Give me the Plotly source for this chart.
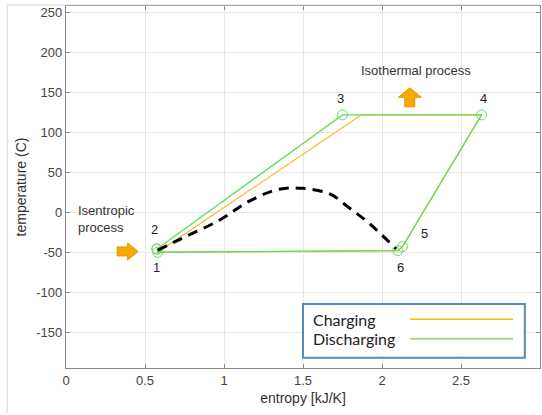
import plotly.graph_objects as go

# ---- data ----
charge_s = [0.58, 1.87, 2.63, 2.13, 2.10, 0.58]
charge_T = [-50, 122, 122, -43, -48, -50]

dis_s = [0.575, 1.75, 2.63, 2.13, 2.10, 0.58, 0.575]
dis_T = [-46, 122, 122, -43, -48, -50, -46]

dome_s = [0.58, 0.74, 0.97, 1.16, 1.35, 1.50, 1.67, 1.79, 1.92, 2.09]
dome_T = [-47.5, -32, -10, 14, 29, 30, 23, 6, -14, -46]

point_labels = ["1", "2", "3", "4", "5", "6"]
label_s = [0.575, 0.56, 1.74, 2.64, 2.27, 2.12]
label_T = [-69, -21, 142, 142, -26, -69]

x_ticks = [0, 0.5, 1, 1.5, 2, 2.5, 3]
x_ticklabels = ["0", "0.5", "1", "1.5", "2", "2.5", "3"]
y_ticks = [-150, -100, -50, 0, 50, 100, 150, 200, 250]
y_ticklabels = ["-150", "-100", "-50", "0", "50", "100", "150", "200", "250"]

legend_names = ["Charging", "Discharging"]

ORANGE = "#f2b51f"
GREEN = "#62dc5c"
ARROW = "#f5a800"
FONT = "Liberation Sans, Arial, sans-serif"

fig = go.Figure()
fig.add_trace(go.Scatter(x=charge_s, y=charge_T, mode="lines",
                         line=dict(color=ORANGE, width=1.1), name=legend_names[0],
                         showlegend=False, hoverinfo="skip"))
fig.add_trace(go.Scatter(x=dis_s, y=dis_T, mode="lines+markers",
                         line=dict(color=GREEN, width=1.3),
                         marker=dict(symbol="circle-open", size=10, color=GREEN,
                                     line=dict(width=1, color=GREEN)),
                         name=legend_names[1], showlegend=False, hoverinfo="skip"))
fig.add_trace(go.Scatter(x=dome_s, y=dome_T, mode="lines",
                         line=dict(color="black", width=3, dash="10px,7px", shape="spline",
                                   smoothing=1.0),
                         showlegend=False, hoverinfo="skip"))

# point number labels
for t, sx, ty in zip(point_labels, label_s, label_T):
    fig.add_annotation(x=sx, y=ty, text=t, showarrow=False,
                       font=dict(family=FONT, size=13, color="#222"))

fig.add_annotation(x=0.063, y=-8, text="Isentropic<br>process", showarrow=False,
                   xanchor="left", align="left",
                   font=dict(family=FONT, size=13, color="#333"))
fig.add_annotation(x=2.217, y=177, text="Isothermal process", showarrow=False,
                   font=dict(family=FONT, size=13, color="#333"))

# block arrows
right_arrow = "M -10.5,-4.5 L 0,-4.5 L 0,-8.5 L 10.5,0 L 0,8.5 L 0,4.5 L -10.5,4.5 Z"
up_arrow = "M -5,-9.5 L -5,0 L -11.5,0 L 0,9.5 L 11.5,0 L 5,0 L 5,-9.5 Z"
fig.add_shape(type="path", xref="x", yref="y", xsizemode="pixel", ysizemode="pixel",
              xanchor=0.39, yanchor=-49, path=right_arrow,
              fillcolor=ARROW, line=dict(color="#e09a00", width=1))
fig.add_shape(type="path", xref="x", yref="y", xsizemode="pixel", ysizemode="pixel",
              xanchor=2.176, yanchor=144, path=up_arrow,
              fillcolor=ARROW, line=dict(color="#e09a00", width=1))

# custom legend (text left, line right)
fig.add_shape(type="rect", xref="paper", yref="paper", x0=0.5, x1=0.968, y0=0.028, y1=0.177,
              fillcolor="white", line=dict(color="#5b87bd", width=2), layer="above")
fig.add_annotation(xref="paper", yref="paper", x=0.517, y=0.135, text=legend_names[0],
                   showarrow=False, xanchor="left", yanchor="middle",
                   font=dict(family="Lato, Carlito, sans-serif", size=16, color="#222"))
fig.add_annotation(xref="paper", yref="paper", x=0.517, y=0.081, text=legend_names[1],
                   showarrow=False, xanchor="left", yanchor="middle",
                   font=dict(family="Lato, Carlito, sans-serif", size=16, color="#222"))
fig.add_shape(type="line", xref="paper", yref="paper", x0=0.726, x1=0.943, y0=0.135, y1=0.135,
              line=dict(color="#f2c500", width=1.5), layer="above")
fig.add_shape(type="line", xref="paper", yref="paper", x0=0.726, x1=0.943, y0=0.081, y1=0.081,
              line=dict(color="#8ed46f", width=1.5), layer="above")

# faint outer frame (left and top)
fig.add_shape(type="line", xref="paper", yref="paper", x0=-0.124, x1=1.0, y0=1.003, y1=1.003,
              line=dict(color="#d8d8d8", width=1))
fig.add_shape(type="line", xref="paper", yref="paper", x0=-0.124, x1=-0.124, y0=-0.125, y1=1.003,
              line=dict(color="#d8d8d8", width=1))

axis_common = dict(showgrid=True, gridcolor="#e6e6e6", gridwidth=1,
                   showline=True, linecolor="#8a8a8a", linewidth=1.2, mirror="ticks",
                   ticks="inside", ticklen=4, tickcolor="#8a8a8a",
                   zeroline=False, automargin=False,
                   tickfont=dict(family=FONT, size=13, color="#444"))

fig.update_xaxes(range=[0, 3], tickvals=x_ticks, ticktext=x_ticklabels,
                 title=dict(text="entropy [kJ/K]", font=dict(family=FONT, size=14, color="#333"),
                            standoff=6),
                 **axis_common)
fig.update_yaxes(range=[-195, 258.4], tickvals=y_ticks, ticktext=y_ticklabels,
                 title=dict(text="temperature (C)", font=dict(family=FONT, size=14, color="#333"),
                            standoff=6),
                 **axis_common)

fig.update_layout(width=542, height=415,
                  margin=dict(l=66, r=2, t=6, b=47),
                  paper_bgcolor="white", plot_bgcolor="white",
                  showlegend=False, hovermode=False)

fig.write_html("out.html", config={"displayModeBar": False},
               post_script="document.body.style.margin='0';document.body.style.overflow='hidden';")
